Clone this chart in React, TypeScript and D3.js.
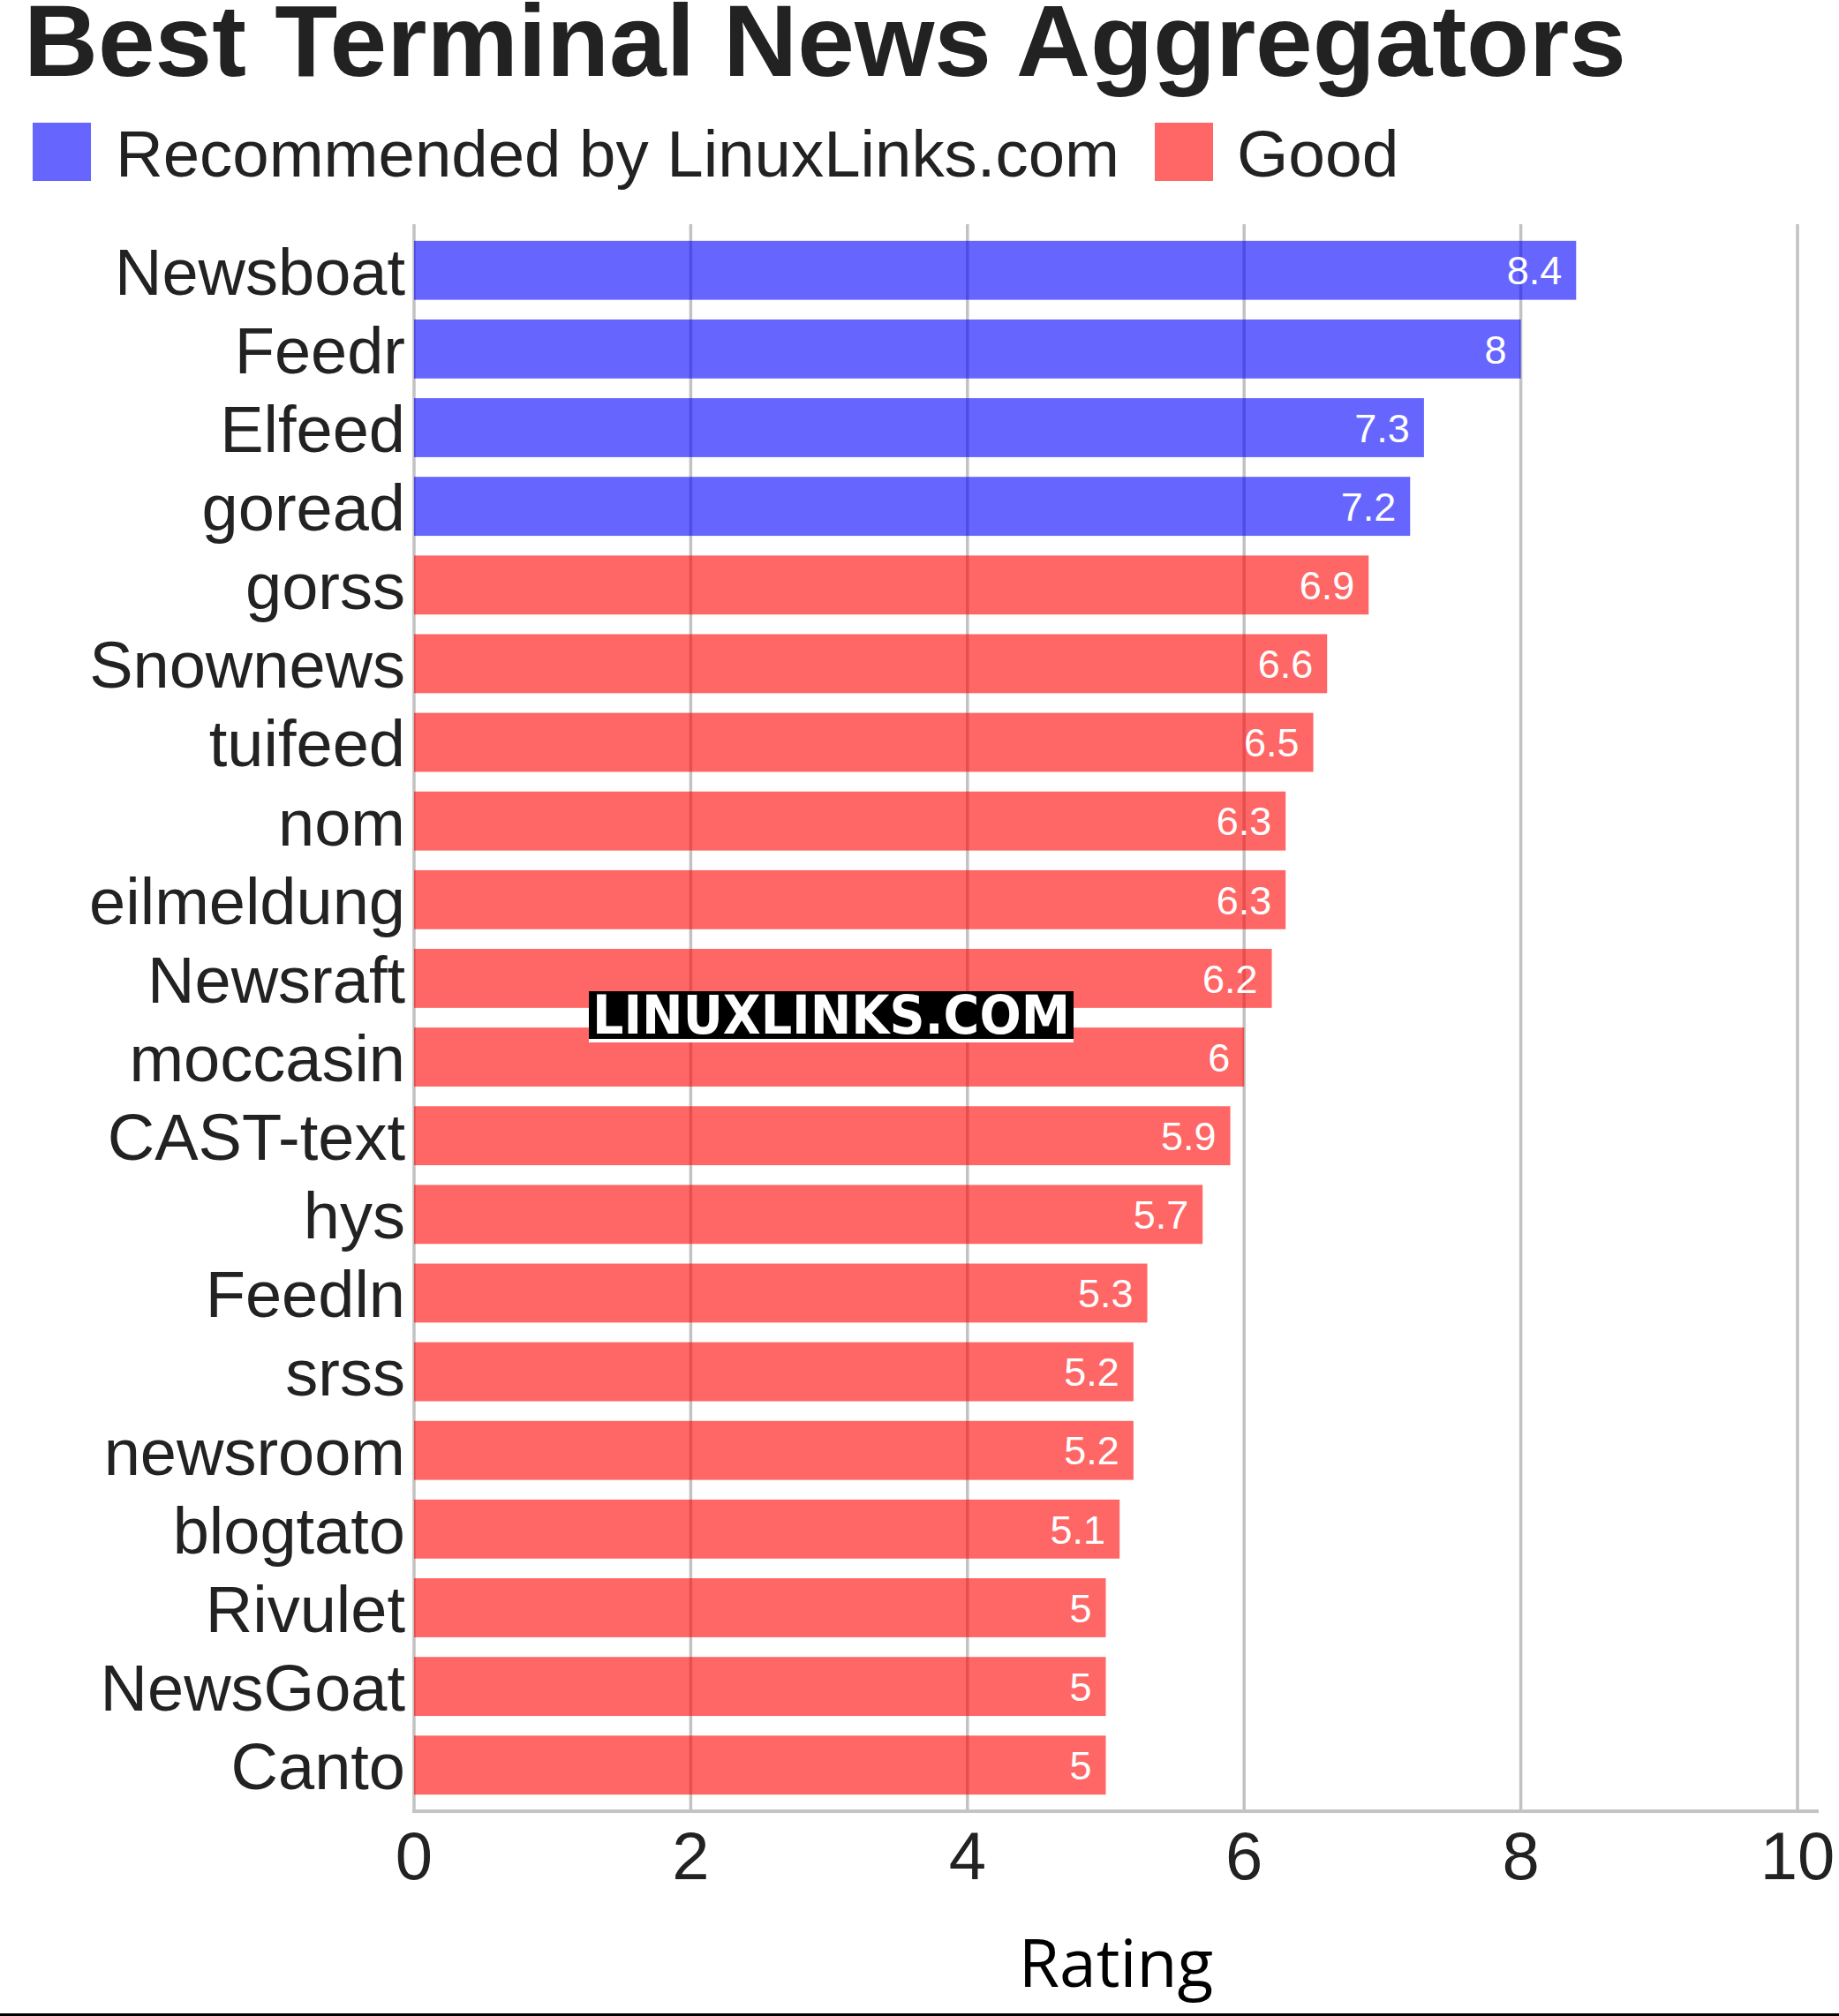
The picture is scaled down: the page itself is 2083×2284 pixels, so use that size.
import React from "react";
import * as d3 from "d3";

const categories = [
  "Newsboat", "Feedr", "Elfeed", "goread", "gorss", "Snownews", "tuifeed", "nom",
  "eilmeldung", "Newsraft", "moccasin", "CAST-text", "hys", "Feedln", "srss",
  "newsroom", "blogtato", "Rivulet", "NewsGoat", "Canto",
];
const ratings = [8.4, 8, 7.3, 7.2, 6.9, 6.6, 6.5, 6.3, 6.3, 6.2, 6, 5.9, 5.7, 5.3, 5.2, 5.2, 5.1, 5, 5, 5];
const groups = [
  "rec", "rec", "rec", "rec", "good", "good", "good", "good", "good", "good",
  "good", "good", "good", "good", "good", "good", "good", "good", "good", "good",
];
const legendLabels = ["Recommended by LinuxLinks.com", "Good"];
const xTicks = [0, 2, 4, 6, 8, 10];

const W = 2083;
const H = 2284;
const BLUE = "rgba(0,0,255,0.6)";
const RED = "rgba(255,0,0,0.6)";
const TXT = "#222";
const SANS = "'Liberation Sans', Arial, Helvetica, sans-serif";

export default function App() {
  const x = d3.scaleLinear().domain([0, 10]).range([469, 2036]);
  const y = d3
    .scaleBand<string>()
    .domain(categories)
    .range([255, 2051])
    .paddingInner(0.25)
    .paddingOuter(0.2);
  const bw = y.bandwidth();
  const color = (g: string) => (g === "rec" ? BLUE : RED);

  return (
    <svg
      width={W}
      height={H}
      viewBox={`0 0 ${W} ${H}`}
      style={{ position: "absolute", left: 0, top: 0, background: "#fff" }}
    >
      <rect x={0} y={0} width={W} height={H} fill="#fff" />
      {/* title */}
      <text
        x={27}
        y={86}
        fontFamily={SANS}
        fontWeight="bold"
        fontSize={115}
        fill={TXT}
        textLength={1815}
        lengthAdjust="spacingAndGlyphs"
      >
        Best Terminal News Aggregators
      </text>
      {/* legend */}
      <rect x={37} y={139} width={66} height={66} fill={BLUE} />
      <text x={131} y={200} fontFamily={SANS} fontSize={75} fill={TXT} textLength={1137} lengthAdjust="spacingAndGlyphs">
        {legendLabels[0]}
      </text>
      <rect x={1308} y={139} width={66} height={66} fill={RED} />
      <text x={1401} y={200} fontFamily={SANS} fontSize={75} fill={TXT}>
        {legendLabels[1]}
      </text>

      {/* gridlines */}
      {xTicks.map((t) => (
        <line
          key={"g" + t}
          x1={x(t)}
          x2={x(t)}
          y1={254}
          y2={2052}
          stroke="#c2c2c2"
          strokeWidth={3.5}
        />
      ))}
      {/* axis line */}
      <line x1={467} x2={2060} y1={2052} y2={2052} stroke="#c4c4c4" strokeWidth={4} />

      {/* bars */}
      {categories.map((c, i) => (
        <rect
          key={"b" + c}
          x={x(0)}
          y={y(c)}
          width={x(ratings[i]) - x(0)}
          height={bw}
          fill={color(groups[i])}
        />
      ))}
      {/* value labels */}
      {categories.map((c, i) => (
        <text
          key={"v" + c}
          x={x(ratings[i]) - 16}
          y={(y(c) as number) + bw / 2}
          dy="0.36em"
          textAnchor="end"
          fontFamily={SANS}
          fontSize={45}
          fill="#fff"
        >
          {String(ratings[i])}
        </text>
      ))}
      {/* category labels */}
      {categories.map((c) => (
        <text
          key={"c" + c}
          x={459}
          y={(y(c) as number) + bw / 2}
          dy="0.37em"
          textAnchor="end"
          fontFamily={SANS}
          fontSize={74}
          fill={TXT}
        >
          {c}
        </text>
      ))}
      {/* tick labels */}
      {xTicks.map((t) => (
        <text
          key={"t" + t}
          x={x(t)}
          y={2129}
          textAnchor="middle"
          fontFamily={SANS}
          fontSize={76}
          fill={TXT}
        >
          {String(t)}
        </text>
      ))}
      {/* axis title */}
      <text
        x={1264}
        y={2251}
        textAnchor="middle"
        fontFamily="'Open Sans', 'Noto Sans', sans-serif"
        fontSize={75}
        fill="#000"
      >
        Rating
      </text>

      {/* watermark */}
      <rect x={667} y={1123} width={549} height={58} fill="#fff" />
      <rect x={667} y={1123} width={549} height={54} fill="#000" />
      <text
        x={671}
        y={1171}
        fontFamily="'DejaVu Sans', sans-serif"
        fontWeight="bold"
        fontSize={60}
        fill="#fff"
        textLength={541}
        lengthAdjust="spacingAndGlyphs"
      >
        LINUXLINKS.COM
      </text>

      {/* bottom border */}
      <rect x={0} y={2281} width={W} height={3} fill="#000" />
    </svg>
  );
}
